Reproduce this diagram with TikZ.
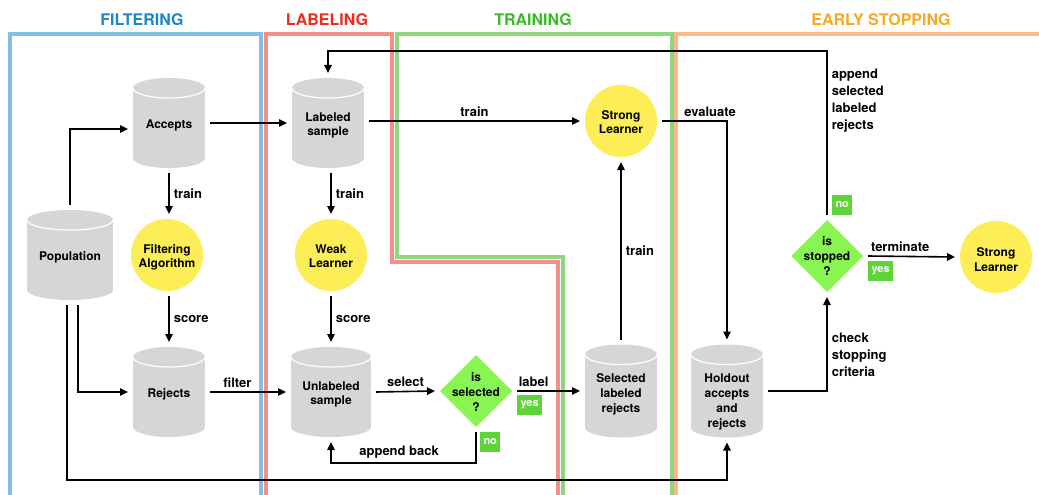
\documentclass[tikz,border=0pt]{standalone}
\usepackage{fontspec}
\setmainfont{TeX Gyre Heros}
\usetikzlibrary{arrows.meta}

\definecolor{fblue}{HTML}{84BEE0}
\definecolor{fred}{HTML}{F48E86}
\definecolor{fgreen}{HTML}{8ED67F}
\definecolor{forange}{HTML}{F9BC88}
\definecolor{tblue}{HTML}{1C86C8}
\definecolor{tred}{HTML}{EE2A1B}
\definecolor{tgreen}{HTML}{3DB82B}
\definecolor{torange}{HTML}{F7A820}
\definecolor{dbgray}{HTML}{D6D6D6}
\definecolor{lyellow}{HTML}{FDEE58}
\definecolor{dgreen}{HTML}{88F552}
\definecolor{taggreen}{HTML}{5FD43A}

\newcommand\nodefnt{\fontsize{12}{14.8}\selectfont\bfseries}
\newcommand\lblfnt{\fontsize{13}{17}\selectfont\bfseries}
\newcommand\tagfnt{\fontsize{11}{13}\selectfont\bfseries}
\newcommand\titlefnt{\fontsize{16}{19}\selectfont\bfseries}
% centred text lines, lowered a little
\newcommand\stacked[2][5.5pt]{\raisebox{-#1}[0pt][0pt]{\begin{tabular}{@{}c@{}}#2\end{tabular}}}

\tikzset{
  frame/.style={line width=4pt},
  title/.style={font=\titlefnt, inner sep=0pt},
  store/.style={minimum width=#1, minimum height=90, inner sep=0pt, outer sep=5pt, font=\nodefnt,
    path picture={
      \fill[dbgray] ([yshift=-10pt]path picture bounding box.north west) rectangle ([yshift=10pt]path picture bounding box.south east);
      \fill[dbgray] ([yshift=-10pt]path picture bounding box.north) ellipse [x radius=#1*0.5pt, y radius=10pt];
      \fill[dbgray] ([yshift=10pt]path picture bounding box.south) ellipse [x radius=#1*0.5pt, y radius=10pt];
      \draw[white, line width=1.2pt] ([yshift=-10pt]path picture bounding box.north west) arc [start angle=180, end angle=360, x radius=#1*0.5pt, y radius=10pt];
    }},
  store/.default=72,
  learner/.style={circle, fill=lyellow, minimum size=72, inner sep=0pt, outer sep=5pt, font=\nodefnt},
  decision/.style={minimum width=72, minimum height=72, inner sep=0pt, outer sep=5pt, font=\nodefnt,
    path picture={
      \fill[dgreen] (path picture bounding box.north) -- (path picture bounding box.east)
        -- (path picture bounding box.south) -- (path picture bounding box.west) -- cycle;
    }},
  tag/.style={fill=taggreen, text=white, font=\tagfnt, inner xsep=3.5pt, inner ysep=0pt,
    minimum height=20, outer sep=0pt},
  lbl/.style={font=\lblfnt, inner sep=4pt},
  flow/.style={line width=1.6pt, -{Triangle[length=8pt, width=7.5pt]}},
}

\begin{document}
\begin{tikzpicture}[x=1pt, y=-1pt]
\useasboundingbox (0,0) rectangle (1039,495);

% stage frames
\draw[frame, fblue] (10,500) -- (10,34) -- (261,34) -- (261,500);
\draw[frame, fred] (266,500) -- (266,34) -- (392,34) -- (392,262) -- (558,262) -- (558,500);
\draw[frame, fgreen] (563,500) -- (563,257) -- (397,257) -- (397,34) -- (672,34) -- (672,500);
\draw[frame, forange] (676,500) -- (676,34) -- (1045,34);

\node[title, text=tblue] (tfilt) at (142,20) {FILTERING};
\node[title, text=tred] (tlab) at (327,20) {LABELING};
\node[title, text=tgreen] (ttrain) at (533,20) {TRAINING};
\node[title, text=torange] (tstop) at (881,20) {EARLY STOPPING};

% data stores
\node[store=86] (pop) at (70,255) {\stacked{Population}};
\node[store] (acc) at (169,123) {\stacked{Accepts}};
\node[store] (rej) at (169,392) {\stacked{Rejects}};
\node[store] (lab) at (328,123) {\stacked{Labeled\\sample}};
\node[store=80] (unl) at (331,392) {\stacked{Unlabeled\\sample}};
\node[store, minimum height=93] (sel) at (621,391) {\stacked[6.5pt]{Selected\\labeled\\rejects}};
\node[store, minimum height=93] (hold) at (727,391) {\stacked[14pt]{Holdout\\accepts\\and\\rejects}};

% models
\node[learner] (falg) at (167,255) {\stacked{Filtering\\Algorithm}};
\node[learner] (weak) at (331,255) {\stacked{Weak\\Learner}};
\node[learner] (strong) at (621,121) {\stacked{Strong\\Learner}};
\node[learner] (final) at (996,257) {\stacked[7pt]{Strong\\Learner}};

% decisions
\node[decision] (issel) at (476,391) {\stacked{is\\selected\\?}};
\node[decision] (isstop) at (827,256) {\stacked[4.5pt]{is\\stopped\\?}};

% filtering
\draw[flow] (pop.north) |- ([yshift=-6pt]acc.west);
\draw[flow] ([xshift=8pt]pop.south) |- (rej.west);
\draw[flow] ([xshift=-3pt]pop.south) -- ++(0,175) -| (hold.south);
\draw[flow] (acc.east) -- (lab.west);
\draw[flow] (acc.south) -- node[lbl, right] {train} (acc.south |- falg.north);
\draw[flow] (falg.south -| rej.north) -- node[lbl, right] {score} (rej.north);
\draw[flow] (rej.east) -- node[lbl, above, pos=0.36] {filter} (unl.west);

% labeling
\draw[flow] (lab.south -| weak.north) -- node[lbl, right] {train} (weak.north);
\draw[flow] (weak.south) -- node[lbl, right] {score} (unl.north);
\draw[flow] (unl.east) -- node[lbl, above] {select} (issel.west);
\draw[flow] (issel.east) -- node[lbl, above right, pos=0, xshift=-3pt] {label}
  node[tag, anchor=north west, pos=0, yshift=-4pt] {yes} (sel.west);
\draw[flow] (issel.south) node[tag, anchor=north west, xshift=4pt] {no}
  -- ++(0,31) -| node[lbl, above, pos=0.265] {append back} (unl.south);

% training
\draw[flow] (lab.east |- strong.west) -- node[lbl, above] {train} (strong.west);
\draw[flow] (sel.north) -- node[lbl, right] {train} (strong.south);

% early stopping
\draw[flow] (strong.east) -| node[lbl, above, pos=0.37] {evaluate} (hold.north);
\draw[flow] (hold.east) -| node[lbl, right, align=left, pos=0.69] {check\\stopping\\criteria} (isstop.south);
\draw[flow] (isstop.east) -- node[lbl, above, pos=0.37] {terminate}
  node[tag, anchor=north west, pos=0, yshift=-5pt] {yes} (final.west);
\draw[flow] (isstop.north) node[tag, anchor=south west, xshift=5pt] {no}
  |- node[lbl, right, align=left, pos=0.348] {append\\selected\\labeled\\rejects}
  ([yshift=22pt]lab.north) -- (lab.north);
\end{tikzpicture}
\end{document}
